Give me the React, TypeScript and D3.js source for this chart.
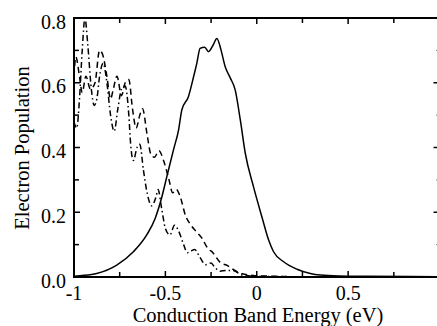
import React from "react";
import * as d3 from "d3";

const solidX = [-1, -0.967, -0.876, -0.766, -0.675, -0.602, -0.556, -0.519, -0.492, -0.456, -0.428, -0.41, -0.374, -0.345, -0.328, -0.31, -0.285, -0.264, -0.24, -0.218, -0.195, -0.173, -0.145, -0.118, -0.09, -0.063, -0.018, 0.028, 0.065, 0.092, 0.147, 0.22, 0.293, 0.348, 0.45, 0.6, 1.0];
const solidY = [0.002, 0.004, 0.011, 0.037, 0.078, 0.13, 0.181, 0.248, 0.31, 0.392, 0.454, 0.516, 0.557, 0.62, 0.66, 0.706, 0.71, 0.696, 0.715, 0.737, 0.7, 0.65, 0.615, 0.578, 0.485, 0.383, 0.279, 0.186, 0.114, 0.078, 0.047, 0.024, 0.011, 0.006, 0.003, 0.002, 0.001];

const dashX = [-1.0, -0.99, -0.97, -0.955, -0.935, -0.91, -0.885, -0.86, -0.845, -0.82, -0.8, -0.785, -0.765, -0.74, -0.72, -0.7, -0.68, -0.66, -0.64, -0.625, -0.6, -0.58, -0.56, -0.535, -0.51, -0.48, -0.46, -0.44, -0.42, -0.39, -0.36, -0.33, -0.3, -0.27, -0.24, -0.2, -0.16, -0.12, -0.08, -0.02, 0.05, 0.2, 1.0];
const dashY = [0.62, 0.68, 0.62, 0.57, 0.62, 0.58, 0.6, 0.7, 0.69, 0.62, 0.55, 0.58, 0.62, 0.56, 0.6, 0.61, 0.52, 0.46, 0.5, 0.52, 0.44, 0.38, 0.37, 0.39, 0.36, 0.3, 0.26, 0.27, 0.25, 0.19, 0.16, 0.14, 0.12, 0.09, 0.075, 0.045, 0.035, 0.02, 0.01, 0.005, 0.003, 0.001, 0.0];

const dotX = [-1.0, -0.985, -0.97, -0.955, -0.94, -0.925, -0.905, -0.89, -0.875, -0.86, -0.84, -0.82, -0.8, -0.78, -0.76, -0.74, -0.72, -0.7, -0.69, -0.675, -0.655, -0.64, -0.62, -0.6, -0.575, -0.55, -0.54, -0.52, -0.5, -0.475, -0.45, -0.43, -0.4, -0.38, -0.36, -0.34, -0.31, -0.28, -0.25, -0.23, -0.2, -0.17, -0.13, -0.08, 0.0, 0.2, 1.0];
const dotY = [0.48, 0.46, 0.55, 0.7, 0.8, 0.72, 0.58, 0.53, 0.55, 0.62, 0.66, 0.6, 0.5, 0.45, 0.52, 0.58, 0.59, 0.5, 0.41, 0.36, 0.4, 0.41, 0.33, 0.26, 0.22, 0.25, 0.27, 0.21, 0.15, 0.13, 0.16, 0.145, 0.1, 0.075, 0.08, 0.085, 0.06, 0.038, 0.043, 0.03, 0.018, 0.02, 0.02, 0.006, 0.002, 0.001, 0.0];

const xMajor = [-1, -0.5, 0, 0.5, 1];
const xMinor = [-0.75, -0.25, 0.25, 0.75];
const xLabels = ["-1", "-0.5", "0", "0.5", ""];
const yMajor = [0, 0.2, 0.4, 0.6, 0.8];
const yMinor = [0.1, 0.3, 0.5, 0.7];
const yLabels = ["0.0", "0.2", "0.4", "0.6", "0.8"];

const W = 437, H = 326;
const L = 74, R = 439.5, T = 18, B = 277;

export default function App() {
  const x = d3.scaleLinear().domain([-1, 1]).range([L, R]);
  const y = d3.scaleLinear().domain([0, 0.8]).range([B, T]);
  const mk = (xs: number[], ys: number[]) =>
    d3.line<number>().x((_, i) => x(xs[i])).y((_, i) => y(ys[i])).curve(d3.curveMonotoneX)(xs)!;
  const font = "Liberation Serif, Times New Roman, Times, DejaVu Serif, serif";
  const ts: React.CSSProperties = { fontFamily: font, fontSize: "20px" };
  const tt: React.CSSProperties = { fontFamily: font, fontSize: "20.5px" };
  return (
    <svg width={W} height={H} style={{ position: "fixed", left: 0, top: 0, background: "#fff" }}>
      <rect x={0} y={0} width={W} height={H} fill="#fff" />
      <path d={mk(solidX, solidY)} fill="none" stroke="#000" strokeWidth={1.5} />
      <path d={mk(dashX, dashY)} fill="none" stroke="#000" strokeWidth={1.5} strokeDasharray="6,4" />
      <path d={mk(dotX, dotY)} fill="none" stroke="#000" strokeWidth={1.5} strokeDasharray="6,3,1.5,3" />
      <rect x={L} y={T} width={R - L} height={B - T} fill="none" stroke="#000" strokeWidth={2} />
      {xMajor.map((v) => (
        <g key={"xm" + v}>
          <line x1={x(v)} x2={x(v)} y1={B} y2={B - 6} stroke="#000" strokeWidth={1.5} />
          <line x1={x(v)} x2={x(v)} y1={T} y2={T + 6} stroke="#000" strokeWidth={1.5} />
        </g>
      ))}
      {xMinor.map((v) => (
        <g key={"xn" + v}>
          <line x1={x(v)} x2={x(v)} y1={B} y2={B - 5} stroke="#000" strokeWidth={1.5} />
          <line x1={x(v)} x2={x(v)} y1={T} y2={T + 5} stroke="#000" strokeWidth={1.5} />
        </g>
      ))}
      {yMajor.map((v) => (
        <g key={"ym" + v}>
          <line x1={L} x2={L + 6} y1={y(v)} y2={y(v)} stroke="#000" strokeWidth={1.5} />
          <line x1={R} x2={R - 6} y1={y(v)} y2={y(v)} stroke="#000" strokeWidth={1.5} />
        </g>
      ))}
      {yMinor.map((v) => (
        <g key={"yn" + v}>
          <line x1={L} x2={L + 5} y1={y(v)} y2={y(v)} stroke="#000" strokeWidth={1.5} />
          <line x1={R} x2={R - 3} y1={y(v)} y2={y(v)} stroke="#000" strokeWidth={1} />
        </g>
      ))}
      {xMajor.map((v, i) =>
        xLabels[i] ? (
          <text key={"xl" + v} x={x(v)} y={300} textAnchor="middle" style={ts}>{xLabels[i]}</text>
        ) : null
      )}
      {yMajor.map((v, i) => (
        <text key={"yl" + v} x={66} y={y(v) + 10.5} textAnchor="end" style={ts}>{yLabels[i]}</text>
      ))}
      <text x={258} y={322} textAnchor="middle" style={tt}>Conduction Band Energy (eV)</text>
      <text transform={`translate(29,148) rotate(-90)`} textAnchor="middle" style={tt}>Electron Population</text>
    </svg>
  );
}
